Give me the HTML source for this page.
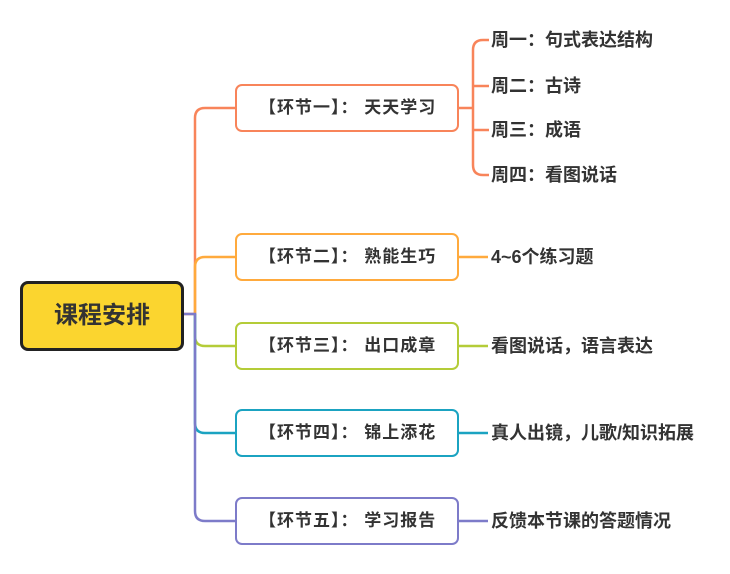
<!DOCTYPE html>
<html><head><meta charset="utf-8"><style>
body{margin:0;background:#fff;width:730px;height:574px;overflow:hidden;position:relative;font-family:"Liberation Sans","Noto Sans CJK SC",sans-serif;}
.b{position:absolute;left:235px;width:220px;height:44px;border:2px solid;border-radius:7px;background:#fff;font-size:17px;font-weight:bold;color:#333;line-height:44px;text-indent:22px;box-sizing:content-box;white-space:nowrap;letter-spacing:1px}
.t{position:absolute;font-size:18px;font-weight:bold;color:#333;line-height:22px;white-space:nowrap}
</style></head><body>
<svg width="730" height="574" style="position:absolute;left:0;top:0" fill="none" stroke-width="2.5">
<path d="M184 314H195V118Q195 108 205 108H235" stroke="#F8845A"/>
<path d="M195 314V267Q195 257 205 257H235" stroke="#FFAA3D"/>
<path d="M195 314V336Q195 346 205 346H235" stroke="#B4CC38"/>
<path d="M195 314V423Q195 433 205 433H235" stroke="#1BA3C1"/>
<path d="M184 314H195V511Q195 521 205 521H235" stroke="#7D7BC9"/>
<path d="M459 108H473M473 108V50Q473 40 483 40H489M473 86H489M473 130H489M473 108V165Q473 175 483 175H489" stroke="#F8845A"/>
<path d="M459 257H488" stroke="#FFAA3D"/>
<path d="M459 346H488" stroke="#B4CC38"/>
<path d="M459 433H488" stroke="#1BA3C1"/>
<path d="M459 521H488" stroke="#7D7BC9"/>
</svg>
<div style="position:absolute;left:20px;top:281px;width:158px;height:64px;background:#FBD52F;border:3px solid #222;border-radius:8px;font-size:24px;font-weight:bold;color:#333;text-align:center;line-height:64px">课程安排</div>
<div class="b" style="top:84px;border-color:#F8845A">【环节一】：&nbsp;天天学习</div>
<div class="b" style="top:233px;border-color:#FFAA3D">【环节二】：&nbsp;熟能生巧</div>
<div class="b" style="top:322px;border-color:#B4CC38">【环节三】：&nbsp;出口成章</div>
<div class="b" style="top:409px;border-color:#1BA3C1">【环节四】：&nbsp;锦上添花</div>
<div class="b" style="top:497px;border-color:#7D7BC9">【环节五】：&nbsp;学习报告</div>
<div class="t" style="left:491px;top:29px">周一：句式表达结构</div>
<div class="t" style="left:491px;top:75px">周二：古诗</div>
<div class="t" style="left:491px;top:119px">周三：成语</div>
<div class="t" style="left:491px;top:164px">周四：看图说话</div>
<div class="t" style="left:491px;top:246px">4~6个练习题</div>
<div class="t" style="left:491px;top:335px">看图说话，语言表达</div>
<div class="t" style="left:491px;top:422px">真人出镜，儿歌/知识拓展</div>
<div class="t" style="left:491px;top:510px">反馈本节课的答题情况</div>
</body></html>
